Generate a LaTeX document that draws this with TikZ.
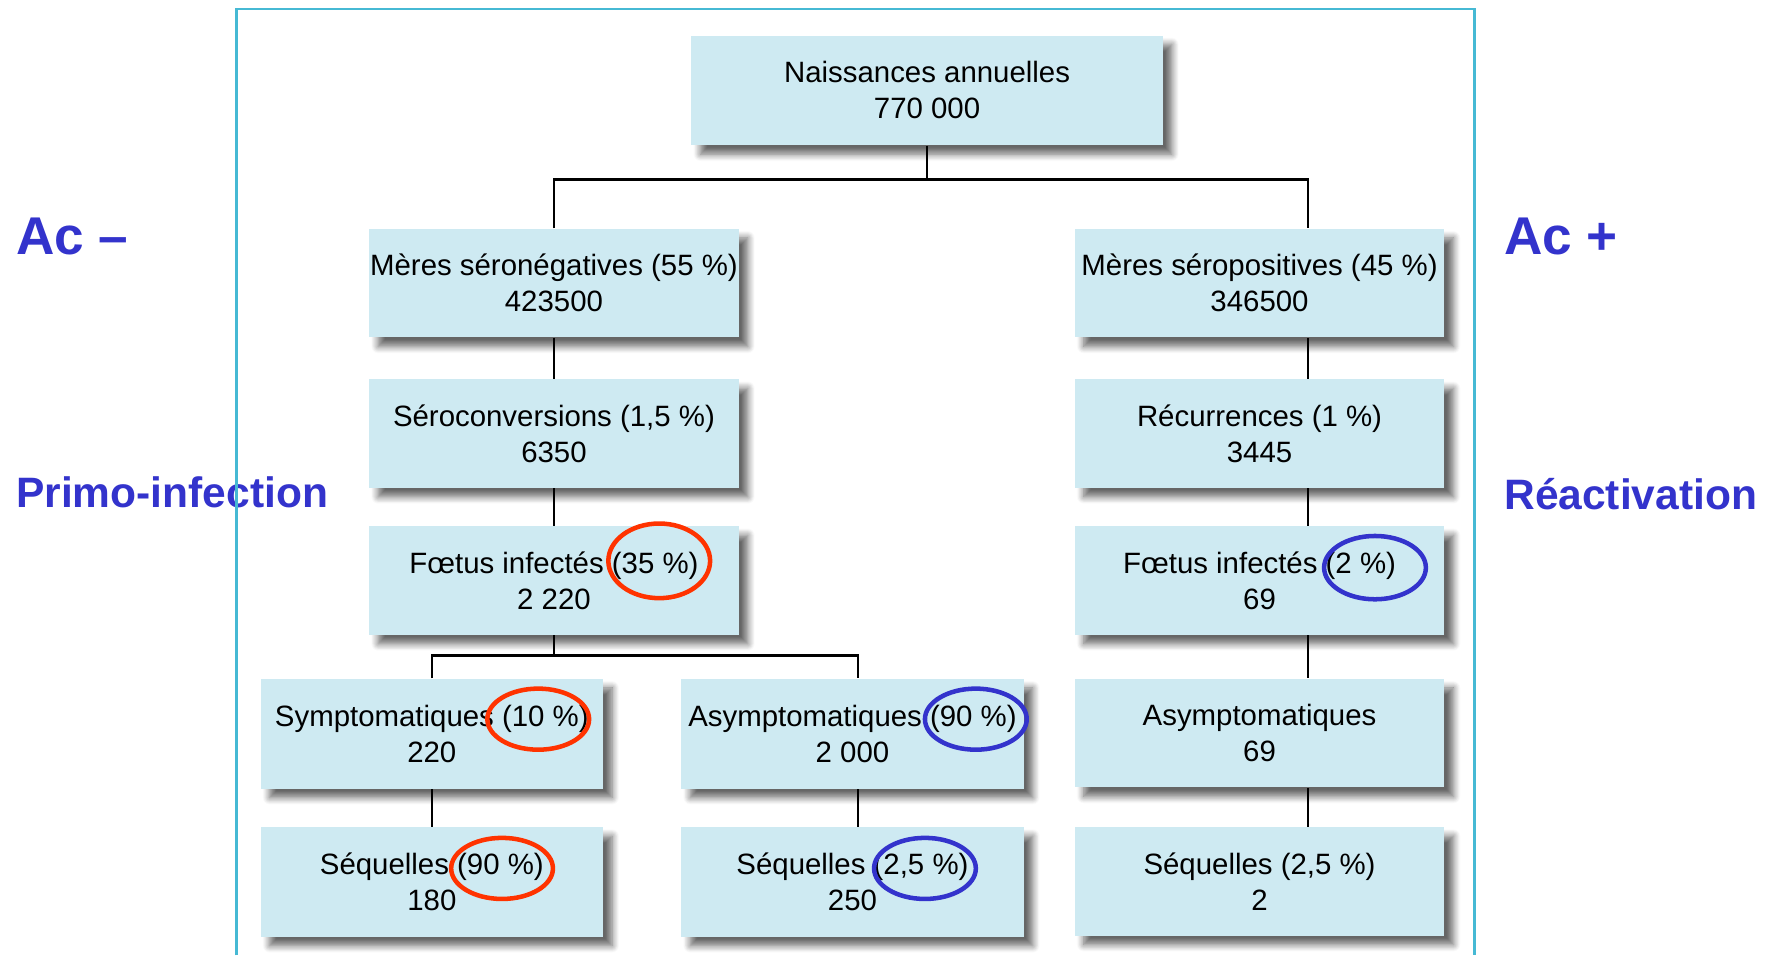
\documentclass[tikz,border=0pt]{standalone}
\usepackage{fontspec}
\setmainfont{Liberation Sans}
\usepackage{xcolor}
\usepackage{tikz}
\usetikzlibrary{shadows.blur}

\definecolor{cellfill}{RGB}{206,234,242}
\definecolor{framecyan}{RGB}{70,185,212}
\definecolor{acblue}{RGB}{51,51,204}
\definecolor{ringred}{RGB}{255,51,0}

\tikzset{
	cell/.style={fill=cellfill, inner sep=0pt, align=center, font=\fontsize{13}{16}\selectfont,
		blur shadow={shadow xshift=4pt, shadow yshift=-4pt, shadow blur radius=3pt, shadow blur steps=8, shadow opacity=60}},
	topcell/.style={cell, minimum width=208.5pt, minimum height=48.5pt},
	colcell/.style={cell, minimum width=163.5pt, minimum height=48pt},
	subcell/.style={cell, minimum width=151.5pt, minimum height=48.5pt},
	link/.style={line width=1pt},
	aclabel/.style={anchor=base west, inner sep=0pt, text=acblue, font=\bfseries\fontsize{23.5}{28}\selectfont},
	phaselabel/.style={anchor=base west, inner sep=0pt, text=acblue, font=\bfseries\fontsize{18.8}{22}\selectfont},
	redring/.style={draw=ringred, line width=2pt},
	bluering/.style={draw=acblue, line width=2pt}
}

\begin{document}
\begin{tikzpicture}[x=0.5pt,y=0.5pt,yscale=-1,xscale=1]
		\useasboundingbox (0,0) rectangle (1568,845);
		
		% Text Node
		\draw (14,225) node [aclabel] (acneg) {Ac –};
		% Text Node
		\draw (1330,225) node [aclabel] (acpos) {Ac +};
		% Text Node
		\draw (14,449) node [phaselabel] (primo) {Primo-infection};
		% Text Node
		\draw (1330,451) node [phaselabel] (react) {Réactivation};
		
		%Shape: Frame
		\draw [color=framecyan, line width=1.2pt] (209,845) -- (209,8) -- (1304,8) -- (1304,845) ;
		
		% Text Node
		\draw (611,31) node [anchor=north west][topcell] (naiss) {Naissances annuelles\\770 000};
		% Text Node
		\draw (326,202) node [anchor=north west][colcell] (meresneg) {Mères séronégatives (55 \%)\\423500};
		% Text Node
		\draw (950,202) node [anchor=north west][colcell] (merespos) {Mères séropositives (45 \%)\\346500};
		% Text Node
		\draw (326,335) node [anchor=north west][colcell] (seroconv) {Séroconversions (1,5 \%)\\6350};
		% Text Node
		\draw (950,335) node [anchor=north west][colcell] (recur) {Récurrences (1 \%)\\3445};
		% Text Node
		\draw (326,465) node [anchor=north west][colcell] (foetneg) {Fœtus infectés (35 \%)\\2 220};
		% Text Node
		\draw (950,465) node [anchor=north west][colcell] (foetpos) {Fœtus infectés (2 \%)\\69};
		% Text Node
		\draw (230,600) node [anchor=north west][subcell] (sympt) {Symptomatiques (10 \%)\\220};
		% Text Node
		\draw (602,600) node [anchor=north west][subcell] (asympt) {Asymptomatiques (90 \%)\\2 000};
		% Text Node
		\draw (950,600) node [anchor=north west][colcell] (asymptpos) {Asymptomatiques\\69};
		% Text Node
		\draw (230,731) node [anchor=north west][subcell] (seqsympt) {Séquelles (90 \%)\\180};
		% Text Node
		\draw (602,731) node [anchor=north west][subcell] (seqasympt) {Séquelles (2,5 \%)\\250};
		% Text Node
		\draw (950,731) node [anchor=north west][colcell] (seqpos) {Séquelles (2,5 \%)\\2};
		
		%Straight Lines
		\coordinate (rx) at (1157,0);
		\coordinate (mx) at (759,0);
		\draw [link] (naiss.south) -- ++(0,30) coordinate (jtop);
		\draw [link] (meresneg.north) |- (jtop) -| (merespos.north -| rx);
		\draw [link] (meresneg.south) -- (seroconv.north);
		\draw [link] (seroconv.south) -- (foetneg.north);
		\draw [link] (foetneg.south) -- ++(0,18) coordinate (jlow);
		\draw [link] (sympt.north) |- (jlow) -| (asympt.north -| mx);
		\draw [link] (sympt.south) -- (seqsympt.north);
		\draw [link] (asympt.south -| mx) -- (seqasympt.north -| mx);
		\draw [link] (merespos.south -| rx) -- (recur.north -| rx);
		\draw [link] (recur.south -| rx) -- (foetpos.north -| rx);
		\draw [link] (foetpos.south -| rx) -- (asymptpos.north -| rx);
		\draw [link] (asymptpos.south -| rx) -- (seqpos.north -| rx);
		
		%Shape: Ellipse
		\draw [redring] (583,496) ellipse (45 and 33);
		\draw [bluering] (1216,502) ellipse (45 and 28);
		\draw [redring] (476,636) ellipse (45 and 27);
		\draw [bluering] (863,636) ellipse (45 and 27);
		\draw [redring] (444,768) ellipse (45 and 27);
		\draw [bluering] (818,768) ellipse (45 and 27);
		
\end{tikzpicture}
\end{document}
